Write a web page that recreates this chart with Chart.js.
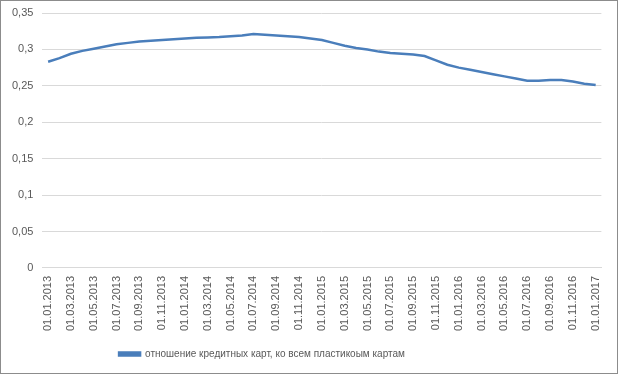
<!DOCTYPE html>
<html>
<head>
  <meta charset="utf-8">
  <title>Кредитные карты</title>
  <script src="https://cdn.jsdelivr.net/npm/chart.js"></script>
  <style>
    body { margin: 0; background: #fff; }
    #box { width: 618px; height: 374px; box-sizing: border-box; border: 1px solid #8c8c8c; }
    canvas { display: block; }
  </style>
</head>
<body>
  <div id="box"><canvas id="chart" width="616" height="372"></canvas></div>
  <script>
    const months = [
      "01.01.2013", "01.02.2013", "01.03.2013", "01.04.2013", "01.05.2013", "01.06.2013",
      "01.07.2013", "01.08.2013", "01.09.2013", "01.10.2013", "01.11.2013", "01.12.2013",
      "01.01.2014", "01.02.2014", "01.03.2014", "01.04.2014", "01.05.2014", "01.06.2014",
      "01.07.2014", "01.08.2014", "01.09.2014", "01.10.2014", "01.11.2014", "01.12.2014",
      "01.01.2015", "01.02.2015", "01.03.2015", "01.04.2015", "01.05.2015", "01.06.2015",
      "01.07.2015", "01.08.2015", "01.09.2015", "01.10.2015", "01.11.2015", "01.12.2015",
      "01.01.2016", "01.02.2016", "01.03.2016", "01.04.2016", "01.05.2016", "01.06.2016",
      "01.07.2016", "01.08.2016", "01.09.2016", "01.10.2016", "01.11.2016", "01.12.2016",
      "01.01.2017"
    ];

    // доля кредитных карт
    const creditShare = [
      0.283, 0.288, 0.294, 0.298, 0.301, 0.304,
      0.307, 0.309, 0.311, 0.312, 0.313, 0.314,
      0.315, 0.316, 0.3165, 0.317, 0.318, 0.319,
      0.321, 0.320, 0.319, 0.318, 0.317, 0.315,
      0.313, 0.309, 0.305, 0.302, 0.300, 0.297,
      0.295, 0.294, 0.293, 0.291, 0.285, 0.279,
      0.275, 0.272, 0.269, 0.266, 0.263, 0.260,
      0.257, 0.257, 0.258, 0.258, 0.256, 0.253,
      0.251
    ];

    const yTicks = [0, 0.05, 0.1, 0.15, 0.2, 0.25, 0.3, 0.35];

    const legendShift = {
      id: "legendShift",
      afterLayout(chart) {
        chart.legend.left -= 42;
        chart.legend.right -= 42;
      }
    };

    Chart.defaults.font.family = "'Liberation Sans', Arial, sans-serif";
    Chart.defaults.font.size = 11;
    Chart.defaults.color = "#595959";

    new Chart(document.getElementById("chart"), {
      type: "line",
      data: {
        labels: months,
        datasets: [{
          label: "отношение кредитных карт, ко всем пластикоым картам",
          data: creditShare,
          borderColor: "#4a7ebb",
          backgroundColor: "#4a7ebb",
          borderWidth: 2.5,
          pointRadius: 0,
          tension: 0
        }]
      },
      options: {
        responsive: false,
        animation: false,
        layout: { padding: { left: 2, right: 12, top: 0, bottom: 4 } },
        plugins: {
          legend: {
            position: "bottom",
            labels: { boxWidth: 21, boxHeight: 3, padding: 10, font: { size: 10 } }
          },
          tooltip: { enabled: false }
        },
        scales: {
          x: {
            offset: true,
            grid: { display: false, drawTicks: false },
            border: { color: "#d9d9d9" },
            ticks: {
              autoSkip: false,
              minRotation: 90,
              maxRotation: 90,
              padding: 8,
              callback: (v, i) => (i % 2 === 0 ? months[i] : "")
            }
          },
          y: {
            min: 0,
            max: 0.35,
            afterBuildTicks: axis => { axis.ticks = yTicks.map(v => ({ value: v })); },
            afterFit: axis => { axis.paddingTop = 12; },
            grid: { color: "#d9d9d9", drawTicks: false },
            border: { display: false },
            ticks: {
              padding: 9,
              callback: v => String(v).replace(".", ",")
            }
          }
        }
      },
      plugins: [legendShift]
    });
  </script>
</body>
</html>
